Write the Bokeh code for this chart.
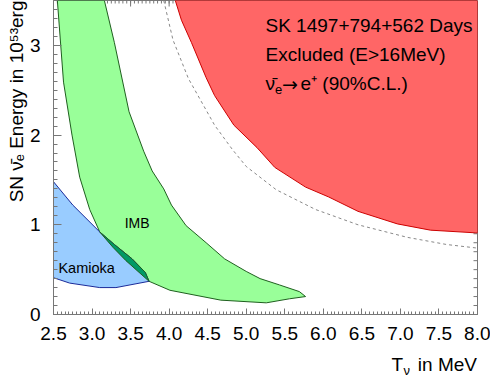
import numpy as np
from bokeh.plotting import figure
from bokeh.models import Range1d, LinearAxis, FixedTicker, Label, Title
from bokeh.layouts import column
from bokeh.embed import file_html
from bokeh.resources import INLINE

# ---------------- data ----------------
red_t = [4.08, 4.16, 4.29, 4.48, 4.59, 4.84, 5.14, 5.37, 5.77, 6.07, 6.45, 6.96, 7.39, 7.98, 8.00, 8.00]
red_e = [3.50, 3.28, 3.03, 2.64, 2.44, 2.11, 1.86, 1.64, 1.42, 1.31, 1.15, 1.01, 0.94, 0.91, 0.91, 3.50]

dash_t = [3.93, 4.05, 4.25, 4.59, 4.82, 5.00, 5.39, 5.90, 6.45, 7.09, 7.60, 8.00]
dash_e = [3.50, 3.06, 2.63, 2.11, 1.84, 1.65, 1.39, 1.17, 1.00, 0.86, 0.78, 0.74]

imb_t = [2.55, 2.63, 2.74, 2.84, 2.97, 3.10, 3.27, 3.44, 3.74, 4.01, 4.67, 5.26, 5.56, 5.77,
         5.69, 5.43, 5.18, 5.00, 4.72, 4.48, 4.22, 4.03, 3.93, 3.78, 3.67, 3.48, 3.29, 3.16]
imb_e = [3.50, 2.59, 2.00, 1.53, 1.17, 0.92, 0.75, 0.60, 0.37, 0.27, 0.16, 0.13, 0.175, 0.20,
         0.255, 0.33, 0.40, 0.48, 0.62, 0.80, 0.99, 1.22, 1.40, 1.60, 1.82, 2.26, 3.03, 3.50]

kam_t = [2.50, 2.75, 3.10, 3.29, 3.52, 3.69, 3.74, 3.31, 3.10, 2.71, 2.50]
kam_e = [1.48, 1.22, 0.92, 0.78, 0.62, 0.47, 0.37, 0.30, 0.30, 0.35, 0.41]

# overlap = Kamioka upper edge (from the crossing) + IMB left edge back up
ovl_t = kam_t[2:7] + imb_t[6:8][::-1]
ovl_e = kam_e[2:7] + imb_e[6:8][::-1]

x_ticks = [2.5, 3.0, 3.5, 4.0, 4.5, 5.0, 5.5, 6.0, 6.5, 7.0, 7.5, 8.0]
x_tick_labels = ["2.5", "3.0", "3.5", "4.0", "4.5", "5.0", "5.5", "6.0", "6.5", "7.0", "7.5", "8.0"]
y_ticks = [0, 1, 2, 3]
y_tick_labels = ["0", "1", "2", "3"]

X0, X1, Y0, Y1 = 2.5, 8.0, 0.0, 3.5
FONT = "Liberation Sans"
GRAY = "#777777"

# ---------------- main plot ----------------
p = figure(width=490, height=350, x_range=Range1d(X0, X1), y_range=Range1d(Y0, Y1),
           x_axis_type=None, y_axis_type=None, output_backend="svg", toolbar_location=None,
           min_border_left=53, min_border_right=13, min_border_top=0, min_border_bottom=36,
           background_fill_color="white", border_fill_color="white")
p.outline_line_color = GRAY

x_minor = list(np.round(np.arange(X0, X1 + 1e-4, 0.05), 3))
y_minor = list(np.round(np.arange(Y0, Y1 + 1e-4, 0.1), 3))


def style(ax, tin, tmin):
    ax.major_tick_in = tin
    ax.major_tick_out = 0
    ax.minor_tick_in = tmin
    ax.minor_tick_out = 0
    ax.axis_line_color = GRAY
    ax.major_tick_line_color = GRAY
    ax.minor_tick_line_color = GRAY
    ax.major_label_text_font = FONT
    ax.major_label_text_font_size = "19px"
    ax.major_label_text_color = "black"


bx = LinearAxis(ticker=FixedTicker(ticks=x_ticks, minor_ticks=x_minor))
style(bx, 6, 3)
bx.major_label_overrides = dict(zip(x_ticks, x_tick_labels))
bx.major_label_standoff = 12
p.add_layout(bx, "below")

ly = LinearAxis(ticker=FixedTicker(ticks=y_ticks, minor_ticks=y_minor))
style(ly, 8, 4)
ly.major_label_overrides = dict(zip(y_ticks, y_tick_labels))
ly.major_label_standoff = 13
p.add_layout(ly, "left")

# y axis title, at the top end of the left side
p.add_layout(Title(text="SN \u03bd\u0304\u2091 Energy in 10\u2075\u00b3erg", align="right",
                   text_font=FONT, text_font_size="19px", text_font_style="normal",
                   text_color="black", standoff=0, offset=0), "left")

# ticks on the top and right edges of the frame
p.ray(x=x_minor, y=[Y1] * len(x_minor), length=3, angle=-np.pi / 2, length_units="screen",
      line_color=GRAY, line_width=1)
p.ray(x=x_ticks, y=[Y1] * len(x_ticks), length=6, angle=-np.pi / 2, length_units="screen",
      line_color=GRAY, line_width=1)
p.ray(x=[X1] * len(y_minor), y=y_minor, length=4, angle=np.pi, length_units="screen",
      line_color=GRAY, line_width=1)
p.ray(x=[X1] * len(y_ticks), y=y_ticks, length=8, angle=np.pi, length_units="screen",
      line_color=GRAY, line_width=1)

# ---------------- regions ----------------
p.patch(red_t, red_e, fill_color="#ff6666", line_color="#cc0000", line_width=1)
p.line(dash_t, dash_e, line_color="#888888", line_width=1, line_dash="3 3")
p.patch(imb_t, imb_e, fill_color="#99ff99", line_color="#1f5f1f", line_width=1)
p.patch(kam_t, kam_e, fill_color="#99ccff", line_color="#1a2a99", line_width=1)
p.patch(ovl_t, ovl_e, fill_color="#009966", line_color="#1f5f1f", line_width=1)


def lab(fig, text, x, y, units="data", size="19px", align="left", dx=0, dy=0, font=FONT):
    fig.add_layout(Label(x=x, y=y, x_units=units, y_units=units, text=text,
                         text_font=font, text_font_size=size, text_color="black",
                         text_align=align, text_baseline="alphabetic",
                         x_offset=dx, y_offset=dy))


TX = 5.25
lab(p, "SK 1497+794+562 Days", TX, 3.226)
lab(p, "Excluded (E>16MeV)", TX, 2.898)
lab(p, "\u03bd\u0304", TX, 2.570)
lab(p, "e", TX, 2.570, size="13px", dx=9.5, dy=-6)
lab(p, "\u2192", TX, 2.570, dx=16.5, font="DejaVu Sans")
lab(p, "e\u207a (90%C.L.)", TX, 2.570, dx=35)

lab(p, "IMB", 3.423, 1.017, size="14px")
lab(p, "Kamioka", 2.564, 0.514, size="14.5px")

# ---------------- x axis title (bottom strip; its frame is aligned with the plot frame) ----------------
xlab = figure(width=490, height=27, x_range=Range1d(0, 1), y_range=Range1d(0, 1),
              x_axis_type=None, y_axis_type=None, output_backend="svg", toolbar_location=None,
              min_border=0, outline_line_color=None)
lab(xlab, "in MeV", 423.5, 13, units="screen", align="right")
lab(xlab, "\u03bd", 356.5, 7, units="screen", size="13px", align="right")
lab(xlab, "T", 349.5, 13, units="screen", align="right")

layout = column(p, xlab)
open("out.html", "w").write(file_html(layout, INLINE))
